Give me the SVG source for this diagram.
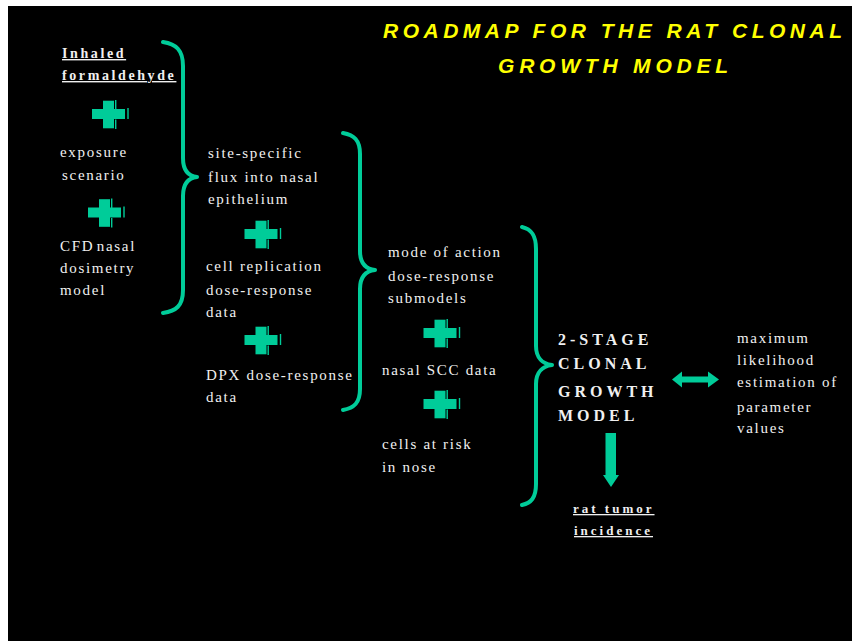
<svg xmlns="http://www.w3.org/2000/svg" xmlns:xlink="http://www.w3.org/1999/xlink" width="852" height="641" viewBox="0 0 852 641">
<style>
.bg{fill:#000}
.t{font-family:"Liberation Serif","Times New Roman",serif;font-size:15px;letter-spacing:1.7px;fill:#F0F0F0}
.u{font-family:"Liberation Serif","Times New Roman",serif;font-weight:bold;fill:#F0F0F0;text-decoration:underline}
.b{font-family:"Liberation Serif","Times New Roman",serif;font-weight:bold;font-size:16px;letter-spacing:4px;fill:#F0F0F0}
.title{font-family:"Liberation Sans",Arial,sans-serif;font-weight:bold;font-style:italic;font-size:21px;letter-spacing:4.5px;fill:#FFFF00}
.brace{fill:none;stroke:#00CC99;stroke-width:4;stroke-linecap:round;stroke-linejoin:round}
.g{fill:#00CC99}
</style>
<defs>
<g id="plus">
<rect class="g" x="-5.5" y="-13.3" width="11" height="27.6"/>
<rect class="g" x="-16.5" y="-5" width="33" height="10"/>
<rect class="g" x="6.5" y="-14" width="1.4" height="10"/>
<rect class="g" x="6.5" y="5.5" width="1.4" height="9.5"/>
<rect class="g" x="18.8" y="-6" width="1.4" height="11"/>
</g>
</defs>
<rect x="0" y="0" width="852" height="641" fill="#FFFFFF"/>
<rect class="bg" x="8" y="6" width="844" height="635"/>

<g id="title">
<text class="title" x="383" y="38">ROADMAP FOR THE RAT CLONAL</text>
<text class="title" x="498" y="73" style="letter-spacing:4.8px">GROWTH MODEL</text>
</g>

<g id="inhaled-formaldehyde">
<text class="u" style="font-size:14px;letter-spacing:2.6px" x="62" y="58">Inhaled</text>
<text class="u" style="font-size:14px;letter-spacing:2.6px" x="62" y="80">formaldehyde</text>
</g>
<g id="exposure-scenario">
<text class="t" x="60" y="157">exposure</text>
<text class="t" x="62" y="180">scenario</text>
</g>
<g id="cfd-model">
<text class="t" x="60" y="251" style="word-spacing:-3px">CFD nasal</text>
<text class="t" x="60" y="273">dosimetry</text>
<text class="t" x="60" y="295">model</text>
</g>
<g id="site-specific-flux">
<text class="t" x="208" y="158">site-specific</text>
<text class="t" x="208" y="182">flux into nasal</text>
<text class="t" x="208" y="204">epithelium</text>
</g>
<g id="cell-replication">
<text class="t" x="206" y="271">cell replication</text>
<text class="t" x="206" y="295">dose-response</text>
<text class="t" x="206" y="317">data</text>
</g>
<g id="dpx-data">
<text class="t" x="206" y="380">DPX dose-response</text>
<text class="t" x="206" y="402">data</text>
</g>
<g id="mode-of-action">
<text class="t" x="388" y="257">mode of action</text>
<text class="t" x="388" y="281">dose-response</text>
<text class="t" x="388" y="303">submodels</text>
</g>
<g id="nasal-scc">
<text class="t" x="382" y="375">nasal SCC data</text>
</g>
<g id="cells-at-risk">
<text class="t" x="382" y="449">cells at risk</text>
<text class="t" x="382" y="472">in nose</text>
</g>
<g id="clonal-growth-model">
<text class="b" x="558" y="345">2-STAGE</text>
<text class="b" x="558" y="369">CLONAL</text>
<text class="b" x="558" y="397">GROWTH</text>
<text class="b" x="558" y="421">MODEL</text>
</g>
<g id="mle">
<text class="t" x="737" y="343">maximum</text>
<text class="t" x="737" y="365">likelihood</text>
<text class="t" x="737" y="387">estimation of</text>
<text class="t" x="737" y="412">parameter</text>
<text class="t" x="737" y="433">values</text>
</g>
<g id="rat-tumor-incidence">
<text class="u" style="font-size:13px;letter-spacing:3px" x="573" y="513">rat tumor</text>
<text class="u" style="font-size:13px;letter-spacing:3px" x="574" y="535">incidence</text>
</g>

<g id="plus-signs">
<use xlink:href="#plus" x="108.5" y="114"/>
<use xlink:href="#plus" x="104.5" y="212.5"/>
<use xlink:href="#plus" x="261" y="234"/>
<use xlink:href="#plus" x="261" y="340"/>
<use xlink:href="#plus" x="440" y="333"/>
<use xlink:href="#plus" x="440" y="404"/>
</g>

<g id="connectors">
<path class="brace" d="M163,42 C176,44 183,50 183,66 L183,158 C183,170 188,176 197,177 C188,178 183,184 183,196 L183,290 C183,306 176,311 163,313"/>
<path class="brace" d="M343,133 C354,135 360,140 360,154 L360,251 C360,263 366,269 375,270 C366,271 360,277 360,289 L360,389 C360,403 354,408 343,410"/>
<path class="brace" d="M522,227 C531,229 536,235 536,249 L536,346 C536,358 543,364 552,365 C543,366 536,372 536,384 L536,484 C536,498 531,503 522,505"/>
<polygon class="g" points="672,379.5 682,371.5 682,376.5 708,376.5 708,371.5 719,379.5 708,387.5 708,382.5 682,382.5 682,387.5"/>
<polygon class="g" points="605.5,433 616,433 616,475 619,475 611,487 603,475 605.5,475"/>
</g>
</svg>
